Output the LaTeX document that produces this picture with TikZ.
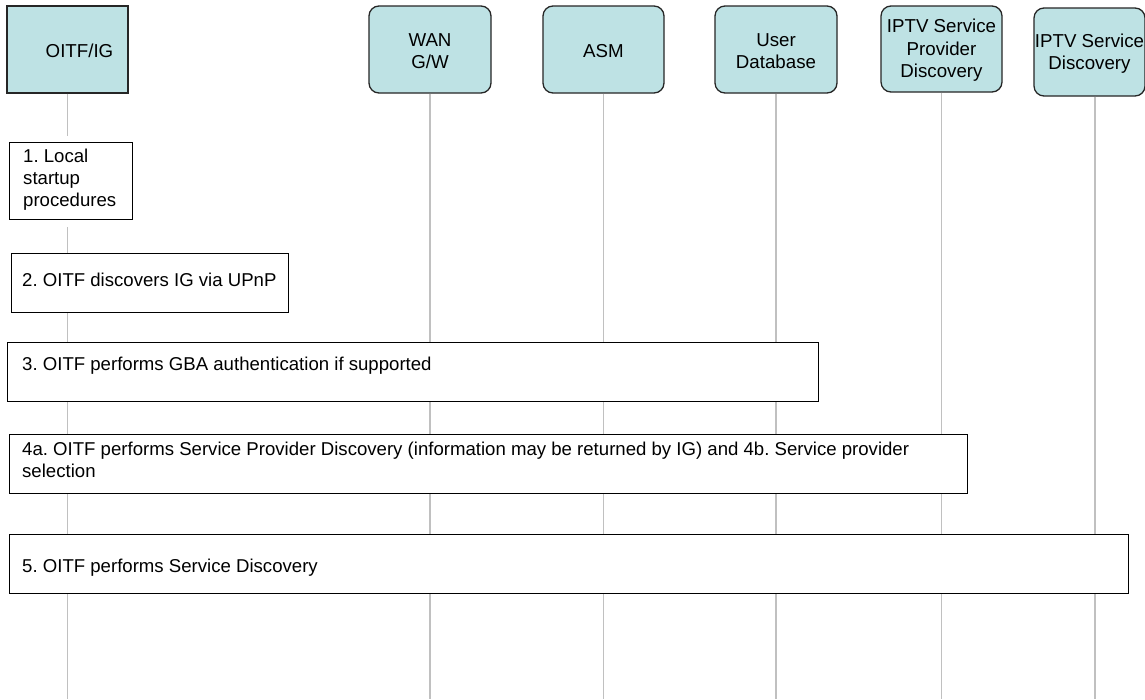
\documentclass[tikz,border=0pt]{standalone}
\usepackage{fontspec}
\setmainfont{Liberation Sans}
\frenchspacing
\definecolor{hdrfill}{RGB}{190,226,228}
\definecolor{lifegray}{RGB}{192,192,192}
\begin{document}
\begin{tikzpicture}[x=1pt,y=-1pt,
  txt/.style={font=\fontsize{18.7}{22.5}\selectfont},
  steptxt/.style={font=\fontsize{18.6}{22}\selectfont},
  hdr/.style={draw=black!85,line width=1.3pt,fill=hdrfill,minimum height=87pt,
              inner sep=0pt},
  hdrround/.style={hdr,rounded corners=10pt},
  hdrtext/.style={txt,align=center,yshift=-1.5pt,inner sep=0pt},
  stepbox/.style={draw=black,line width=1.3pt,fill=white,inner sep=0pt,anchor=north west},
  steptext/.style={anchor=west,align=left,inner sep=0pt,steptxt},
  life/.style={draw=lifegray,line width=1.5pt}]
\clip (0,0) rectangle (1145,699);
\fill[white] (0,0) rectangle (1145,699);

% headers
\node[hdr,minimum width=121pt,label={[hdrtext,xshift=12pt]center:OITF/IG}] (oitf) at (67.5,49.5) {};
\node[hdrround,minimum width=122pt,label={[hdrtext]center:WAN\\G/W}] (wan) at (430,49.5) {};
\node[hdrround,minimum width=121pt,label={[hdrtext]center:ASM}] (asm) at (603.5,49.5) {};
\node[hdrround,minimum width=122pt,label={[hdrtext]center:User\\Database}] (udb) at (776,49.5) {};
\node[hdrround,minimum width=121pt,minimum height=86pt,label={[hdrtext]center:IPTV Service\\Provider\\Discovery}] (spd) at (941.5,49) {};
\node[hdrround,minimum width=111pt,minimum height=88pt,label={[hdrtext]center:IPTV Service\\Discovery}] (sd) at (1089.5,52) {};

% coordinates for lifeline ends
\coordinate (bot) at (0,699);
\coordinate (g1) at (67.5,136);
\coordinate (g2) at (67.5,227);

% lifelines
\draw[life] (oitf.south) -- (g1);
\draw[life] (g2) -- (g2 |- bot);
\draw[life] (wan.south) -- (wan.south |- bot);
\draw[life] (asm.south) -- (asm.south |- bot);
\draw[life] (udb.south) -- (udb.south |- bot);
\draw[life] (spd.south) -- (spd.south |- bot);
\draw[life] ([xshift=5.5pt]sd.south) -- ([xshift=5.5pt]sd.south |- bot);

% step boxes
\node[stepbox,minimum width=123pt,minimum height=77pt] (s1) at (9,142) {};
\node[stepbox,minimum width=277pt,minimum height=59pt] (s2) at (11,253) {};
\node[stepbox,minimum width=811pt,minimum height=59pt] (s3) at (7,342) {};
\node[stepbox,minimum width=958pt,minimum height=59pt] (s4) at (9,434) {};
\node[stepbox,minimum width=1119pt,minimum height=59pt] (s5) at (9,534) {};

% step texts
\node[steptext] (t1) at (23,180) {1. Local\\startup\\procedures};
\node[steptext] (t2) at (22,280) {2. OITF discovers IG via UPnP};
\node[steptext] (t3) at (22,366) {3. OITF performs GBA authentication if supported};
\node[steptext] (t4) at (22,460) {4a. OITF performs Service Provider Discovery (information may be returned by IG) and 4b. Service provider\\selection};
\node[steptext] (t5) at (22,568) {5. OITF performs Service Discovery};
\end{tikzpicture}
\end{document}
